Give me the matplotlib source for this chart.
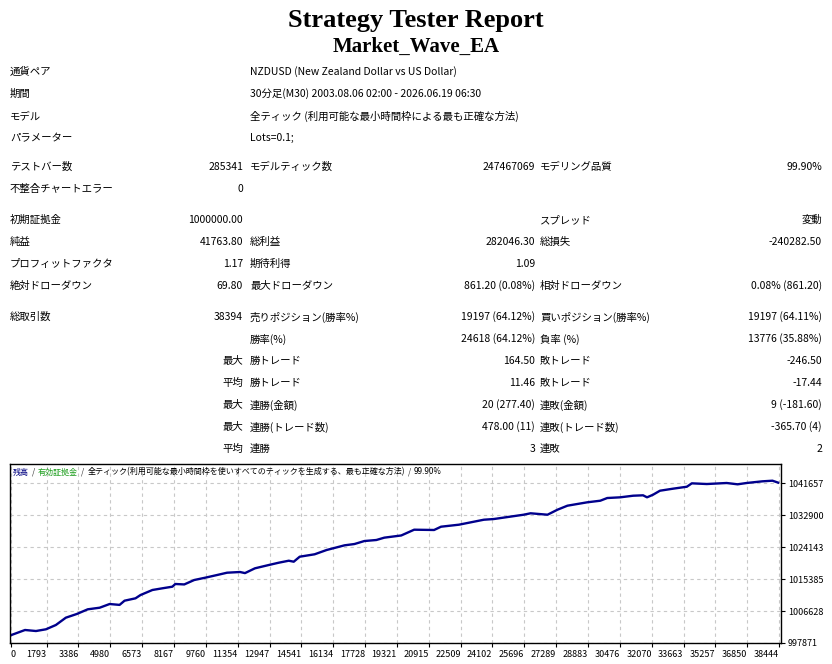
import numpy as np
import matplotlib
matplotlib.use('Agg')
from matplotlib import pyplot as plt

plt.rcParams['font.family'] = ['Noto Sans CJK JP', 'DejaVu Sans']

W, H = 832, 664

report_title = "Strategy Tester Report"
ea_name = "Market_Wave_EA"

info_labels = ["通貨ペア", "期間", "モデル", "パラメーター"]
info_values = ["NZDUSD (New Zealand Dollar vs US Dollar)",
               "30分足(M30) 2003.08.06 02:00 - 2026.06.19 06:30",
               "全ティック (利用可能な最小時間枠による最も正確な方法)",
               "Lots=0.1;"]

# label1, value1, label2, value2, label3, value3
stats_rows = [
    ("テストバー数", "285341", "モデルティック数", "247467069", "モデリング品質", "99.90%"),
    ("不整合チャートエラー", "0", "", "", "", ""),
    ("初期証拠金", "1000000.00", "", "", "スプレッド", "変動"),
    ("純益", "41763.80", "総利益", "282046.30", "総損失", "-240282.50"),
    ("プロフィットファクタ", "1.17", "期待利得", "1.09", "", ""),
    ("絶対ドローダウン", "69.80", "最大ドローダウン", "861.20 (0.08%)", "相対ドローダウン", "0.08% (861.20)"),
    ("総取引数", "38394", "売りポジション(勝率%)", "19197 (64.12%)", "買いポジション(勝率%)", "19197 (64.11%)"),
    ("", "", "勝率(%)", "24618 (64.12%)", "負率 (%)", "13776 (35.88%)"),
    ("", "最大", "勝トレード", "164.50", "敗トレード", "-246.50"),
    ("", "平均", "勝トレード", "11.46", "敗トレード", "-17.44"),
    ("", "最大", "連勝(金額)", "20 (277.40)", "連敗(金額)", "9 (-181.60)"),
    ("", "最大", "連勝(トレード数)", "478.00 (11)", "連敗(トレード数)", "-365.70 (4)"),
    ("", "平均", "連勝", "3", "連敗", "2"),
]

chart_title_parts = [("残高", "#000080"), ("/", "#333333"), ("有効証拠金", "#1e9e1e"), ("/", "#333333"),
                     ("全ティック(利用可能な最小時間枠を使いすべてのティックを生成する、最も正確な方法)", "black"),
                     ("/", "#333333"), ("99.90%", "black")]

trade_idx = [0, 712, 1260, 1758, 2256, 2754, 3302, 3849, 4447, 4945, 5443, 5692, 6240, 6489, 7087,
             7585, 8083, 8232, 8680, 9178, 9726, 10323, 10821, 11469, 11718, 12216, 12913, 13411, 13909,
             14158, 14457, 15204, 15802, 16698, 17196, 17694, 18292, 18690, 19537, 20184, 21180, 21529,
             22425, 23670, 24168, 25662, 26010, 26857, 27355, 27853, 28849, 29496, 29845, 30492, 31140,
             31638, 31837, 32136, 32484, 33132, 33829, 34078, 34825, 35821, 36369, 36817, 37614, 38112, 38394]
balance = [1000000, 1001430, 1001150, 1001620, 1002800, 1004800, 1005810, 1007090, 1007530, 1008540,
           1008300, 1009450, 1010100, 1011000, 1012380, 1012840, 1013280, 1014020, 1013900, 1015110,
           1015740, 1016480, 1017110, 1017300, 1017000, 1018310, 1019220, 1019850, 1020390, 1020120,
           1021490, 1022150, 1023320, 1024600, 1024960, 1025780, 1026060, 1026700, 1027300, 1028880,
           1028800, 1029700, 1030250, 1031610, 1031800, 1032980, 1033370, 1032980, 1034350, 1035450,
           1036380, 1036810, 1037550, 1037740, 1038180, 1038290, 1037740, 1038450, 1039550, 1040100,
           1040640, 1041570, 1041380, 1041660, 1041300, 1041660, 1042120, 1042290, 1041764]

x_ticks = [0, 1793, 3386, 4980, 6573, 8167, 9760, 11354, 12947, 14541, 16134, 17728, 19321, 20915,
           22509, 24102, 25696, 27289, 28883, 30476, 32070, 33663, 35257, 36850, 38444]
y_ticks = [997871, 1006628, 1015385, 1024143, 1032900, 1041657]

fig = plt.figure(figsize=(W / 100, H / 100), dpi=100)

def fx(px):
    return px / W

def fy(py):
    return 1 - py / H

# header
fig.text(0.5, fy(20), report_title, ha='center', va='center', family='Liberation Serif',
         weight='bold', fontsize=19)
fig.text(0.5, fy(47), ea_name, ha='center', va='center', family='Liberation Serif',
         weight='bold', fontsize=15)

fs = 7.5
info_y = [72, 94, 116, 138]
for lab, val, y in zip(info_labels, info_values, info_y):
    fig.text(fx(10), fy(y), lab, ha='left', va='center', fontsize=fs)
    fig.text(fx(250), fy(y), val, ha='left', va='center', fontsize=fs)

stats_y = [167, 189, 220, 242, 264, 286, 317, 339, 361, 383, 405, 427, 449]
for row, y in zip(stats_rows, stats_y):
    l1, v1, l2, v2, l3, v3 = row
    fig.text(fx(10), fy(y), l1, ha='left', va='center', fontsize=fs)
    fig.text(fx(243), fy(y), v1, ha='right', va='center', fontsize=fs)
    fig.text(fx(250), fy(y), l2, ha='left', va='center', fontsize=fs)
    fig.text(fx(535), fy(y), v2, ha='right', va='center', fontsize=fs)
    fig.text(fx(540), fy(y), l3, ha='left', va='center', fontsize=fs)
    fig.text(fx(822), fy(y), v3, ha='right', va='center', fontsize=fs)

# chart
ax = fig.add_axes([fx(10), fy(643), fx(771), 179 / H])
ax.plot(trade_idx, balance, color='#00008c', lw=1.7)
ax.set_xlim(-40, 38540)
ax.set_ylim(997871, 1046860)
ax.set_xticks(x_ticks)
ax.set_xticklabels([str(v) for v in x_ticks])
ax.set_yticks(y_ticks)
ax.set_yticklabels([str(v) for v in y_ticks])
ax.yaxis.tick_right()
ax.tick_params(axis='both', length=3, width=0.8, pad=2, labelsize=6.5, colors='black')
for i, lab in enumerate(ax.get_xticklabels()):
    lab.set_ha('left' if i == 0 else 'right')
ax.grid(True, color='#c8c8c8', linestyle=(0, (3, 3)), lw=0.8)
for sp in ax.spines.values():
    sp.set_color('black')
    sp.set_linewidth(1.0)

# chart caption inside the box
r = fig.canvas.get_renderer()
x = 13
for s, c in chart_title_parts:
    t = fig.text(fx(x), fy(472), s, ha='left', va='center', color=c, fontsize=5.8)
    bb = t.get_window_extent(renderer=r)
    x = bb.x1 + 3

fig.savefig("out.png", dpi=100)
